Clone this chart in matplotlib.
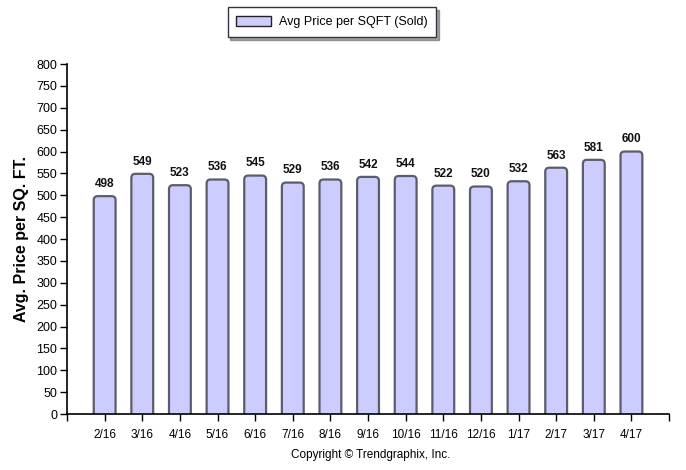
import numpy as np
import matplotlib
matplotlib.use("Agg")
import matplotlib.pyplot as plt
from matplotlib.patches import FancyBboxPatch, Patch

plt.rcParams['font.family'] = ['Liberation Sans', 'DejaVu Sans']

# data
months = ['2/16', '3/16', '4/16', '5/16', '6/16', '7/16', '8/16', '9/16',
          '10/16', '11/16', '12/16', '1/17', '2/17', '3/17', '4/17']
price = [498, 549, 523, 536, 545, 529, 536, 542, 544, 522, 520, 532, 563, 581, 600]

fill = '#ccccff'
edge = '#5c5c6c'

fig = plt.figure(figsize=(6.86, 4.70), dpi=100)
ax = fig.add_axes([0.0977, 0.1191, 0.8776, 0.7447])

x = np.arange(len(months))
w = 0.58
# rounded top corners: x units vs y units scaling
px_x = 0.8776 * 686 / 16.0
px_y = 0.7447 * 470 / 800.0
r = 4.0 / px_x
asp = (4.0 / px_y) / r
for xi, v in zip(x, price):
    p = FancyBboxPatch((xi - w / 2, -30), w, v + 30,
                       boxstyle="round,pad=0,rounding_size=%f" % r,
                       mutation_aspect=asp, facecolor=fill, edgecolor=edge,
                       linewidth=1.6, zorder=2)
    ax.add_patch(p)
    ax.text(xi, v + 14, str(v), ha='center', va='bottom',
            fontsize=8.5, fontweight='bold', color='#111111')

ax.set_xlim(-1, 15)
ax.set_ylim(0, 800)
ax.set_xticks(np.arange(-1, 16))
ax.set_xticklabels([''] + months + [''], fontsize=8.5)
ax.set_yticks(np.arange(0, 801, 50))
ax.tick_params(axis='y', labelsize=9, length=5, width=1, pad=2)
ax.tick_params(axis='x', length=5, width=1, pad=6)
for s in ['top', 'right']:
    ax.spines[s].set_visible(False)
for s in ['left', 'bottom']:
    ax.spines[s].set_linewidth(1.2)

ax.set_ylabel('Avg. Price per SQ. FT.', fontsize=11.5, fontweight='bold', labelpad=5)

leg = fig.legend(handles=[Patch(facecolor=fill, edgecolor='#222222', label='Avg Price per SQFT (Sold)')],
                 loc='center', bbox_to_anchor=(0.484, 0.953), fancybox=False, shadow=True,
                 fontsize=9, handlelength=2.8, handleheight=0.9, borderpad=0.7,
                 handletextpad=0.6, borderaxespad=0)
leg.get_frame().set_edgecolor('#333344')
leg.get_frame().set_linewidth(1)

fig.text(0.54, 0.032, 'Copyright \u00a9 Trendgraphix, Inc.', ha='center', va='center', fontsize=8.5)

fig.savefig('out.png', dpi=100)
